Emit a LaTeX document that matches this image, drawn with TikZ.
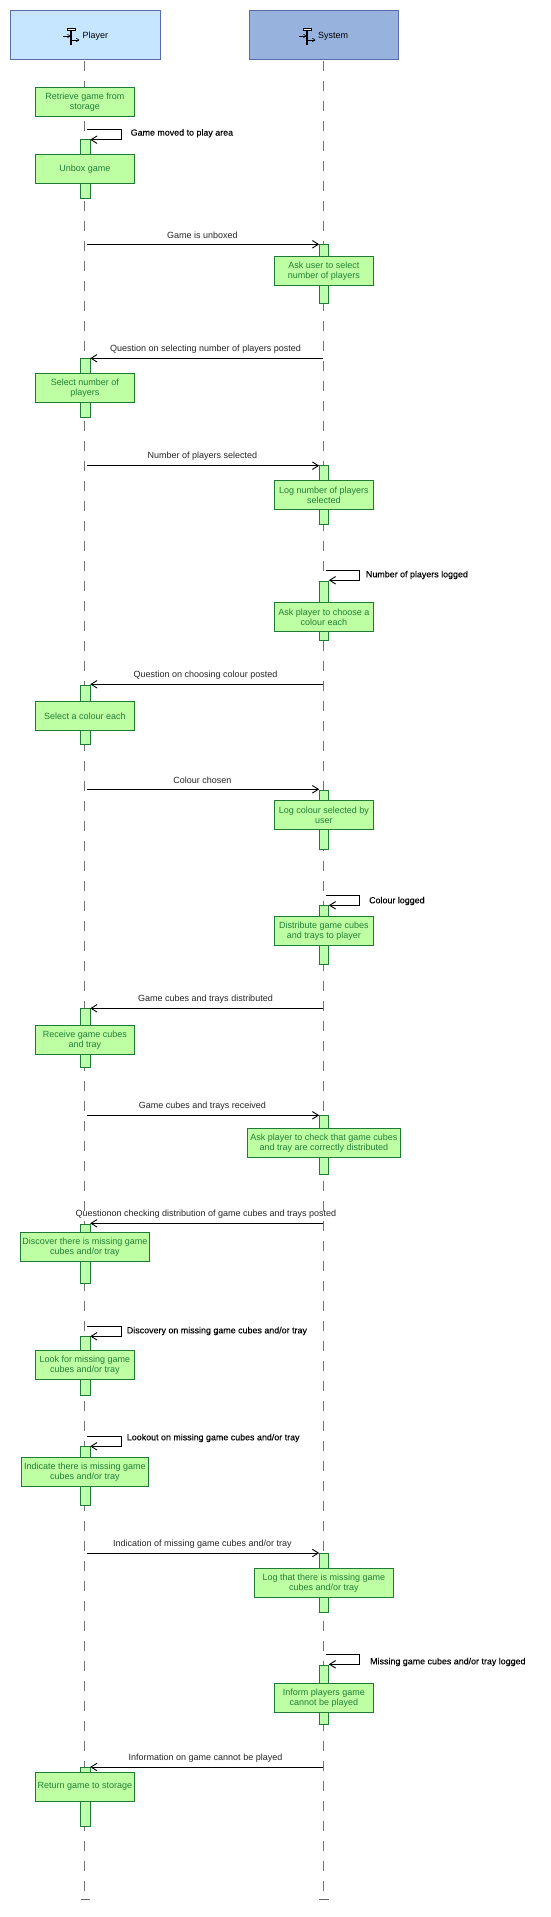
\documentclass[tikz,border=0pt]{standalone}
\usepackage{fontspec}
\setmainfont{Liberation Sans}
\newfontfamily\slabfont[FakeBold=0.07]{Liberation Sans}
\usetikzlibrary{arrows.meta}
\definecolor{gborder}{HTML}{1F7A35}
\definecolor{gfill}{HTML}{BFFFA3}
\definecolor{gtext}{HTML}{217F36}
\definecolor{hborder}{HTML}{5A6BAA}
\definecolor{pfill}{HTML}{C6E6FF}
\definecolor{sfill}{HTML}{97B2DC}
\tikzset{
  x=1pt,y=-1pt,
  header/.style={draw=hborder,line width=0.9pt,minimum width=149.5pt,minimum height=49.4pt,inner sep=0pt,outer sep=0pt},
  actbox/.style={draw=gborder,fill=gfill,line width=0.9pt,minimum height=29.2pt,minimum width=99pt,inner sep=0pt,outer sep=0pt,align=center,text=gtext,font=\fontsize{9}{10}\selectfont},
  bar/.style={draw=gborder,fill=gfill!85!green!70!white,line width=0.9pt,minimum width=9.6pt,inner sep=0pt,outer sep=0pt},
  msg/.style={draw=black,line width=1pt,-{Straight Barb[length=6pt,width=7.5pt,line width=0.9pt]}},
  lifeline/.style={draw=black!55,line width=0.8pt,dash pattern=on 10pt off 10pt},
  endbar/.style={draw=black!60,line width=0.8pt},
  mlabel/.style={text=black!85,inner sep=0pt,font=\fontsize{9}{10}\selectfont},
  slabel/.style={text=black,inner sep=0pt,anchor=west,font=\slabfont\fontsize{8.9}{10}\selectfont},
  icon/.style={draw=black,line width=0.7pt},
}
\newcommand{\barnode}[4]{\node[bar,minimum height={#4-#3}] (#1) at (#2,{(#3+#4)/2}) {};}
\newcommand{\tline}[1]{\raisebox{-.8pt}{#1}}
\begin{document}
\begin{tikzpicture}
\useasboundingbox (0,0) rectangle (550,1917);
\fill[white] (0,0) rectangle (550,1917);
% lifelines
\coordinate (LP) at (84.7,61);
\coordinate (LS) at (323.3,61);
\coordinate (LPe) at (84.7,1899.3);
\coordinate (LSe) at (323.3,1899.3);
\draw[lifeline] (LP) -- (LPe);
\draw[lifeline] (LS) -- (LSe);
\draw[endbar] (80.5,1899.3) -- (90.3,1899.3);
\draw[endbar] (319.1,1899.3) -- (328.9,1899.3);
% headers
\node[header,fill=pfill] (P) at (85.2,35) {};
\node[header,fill=sfill] (S) at (323.8,35) {};
\node[font=\fontsize{9}{10}\selectfont,inner sep=0pt,anchor=west] (Pt) at (82.3,36.2) {Player};
\node[font=\fontsize{9}{10}\selectfont,inner sep=0pt,anchor=west] (St) at (318,36.2) {System};
\foreach \ox in {0,236} {
  \draw[icon,fill=white] (67.6+\ox,28) rectangle (75+\ox,30.7);
  \draw[draw=black,line width=1.8pt] (71.3+\ox,30.7) -- (71.3+\ox,45);
  \draw[icon,-{Straight Barb[length=2.5pt,width=3.5pt,line width=0.6pt]}] (63.3+\ox,36) -- (70.5+\ox,36);
  \draw[icon,-{Straight Barb[length=2.5pt,width=3.5pt,line width=0.6pt]}] (72+\ox,40) -- (79.4+\ox,40);
}
% activation bars
\barnode{a1}{85.4}{139.7}{198.7}
\barnode{a2}{324}{244.3}{303.7}
\barnode{a3}{85.4}{358.3}{417.7}
\barnode{a4}{324}{465.7}{524.3}
\barnode{a5}{324}{581.3}{640.7}
\barnode{a6}{85.4}{685.3}{744.3}
\barnode{a7}{324}{790.3}{849.7}
\barnode{a8}{324}{905.3}{964.3}
\barnode{a9}{85.4}{1008.3}{1067.3}
\barnode{a10}{324}{1115.3}{1174.3}
\barnode{a11}{85.4}{1224.3}{1283.3}
\barnode{a12}{85.4}{1336.3}{1395.3}
\barnode{a13}{85.4}{1446.3}{1505.3}
\barnode{a14}{324}{1553}{1612.3}
\barnode{a15}{324}{1665.3}{1724.3}
\barnode{a16}{85.4}{1767.3}{1826.3}
% action boxes
\node[actbox] (b0) at (84.9,102.2) {\tline{Retrieve game from}\\\tline{storage}};
\node[actbox] (b1) at (84.9,169.2) {\tline{Unbox game}};
\node[actbox] (b2) at (323.8,271.2) {\tline{Ask user to select}\\\tline{number of players}};
\node[actbox] (b3) at (84.9,388) {\tline{Select number of}\\\tline{players}};
\node[actbox] (b4) at (323.8,495) {\tline{Log number of players}\\\tline{selected}};
\node[actbox] (b5) at (323.8,617) {\tline{Ask player to choose a}\\\tline{colour each}};
\node[actbox] (b6) at (84.9,715.8) {\tline{Select a colour each}};
\node[actbox] (b7) at (323.8,815) {\tline{Log colour selected by}\\\tline{user}};
\node[actbox] (b8) at (323.8,930.8) {\tline{Distribute game cubes}\\\tline{and trays to player}};
\node[actbox] (b9) at (84.9,1039.8) {\tline{Receive game cubes}\\\tline{and tray}};
\node[actbox,minimum width=153.2pt] (b10) at (323.8,1142.8) {\tline{Ask player to check that game cubes}\\\tline{and tray are correctly distributed}};
\node[actbox,minimum width=129.2pt] (b11) at (84.9,1246.8) {\tline{Discover there is missing game}\\\tline{cubes and/or tray}};
\node[actbox] (b12) at (84.9,1364.8) {\tline{Look for missing game}\\\tline{cubes and/or tray}};
\node[actbox,minimum width=127.2pt] (b13) at (84.9,1471.8) {\tline{Indicate there is missing game}\\\tline{cubes and/or tray}};
\node[actbox,minimum width=139.2pt] (b14) at (323.8,1582.8) {\tline{Log that there is missing game}\\\tline{cubes and/or tray}};
\node[actbox] (b15) at (323.8,1697.7) {\tline{Inform players game}\\\tline{cannot be played}};
\node[actbox] (b16) at (84.9,1786.8) {\tline{Return game to storage}};
% messages
\draw[msg] ([xshift=2.5pt]LP |- 0,129.3) -- +(33.8,0) |- (a1.north east);
\draw[msg] ([xshift=2.5pt]LP |- a2.north) -- (a2.north west);
\draw[msg] (LS |- a3.north) -- (a3.north east);
\draw[msg] ([xshift=2.5pt]LP |- a4.north) -- (a4.north west);
\draw[msg] ([xshift=2.5pt]LS |- 0,570.3) -- +(34.1,0) |- ([yshift=1pt]a5.north east);
\draw[msg] (LS |- 0,684.3) -- ([yshift=1pt]a6.north east);
\draw[msg] ([xshift=2.5pt]LP |- 0,789.3) -- ([yshift=1pt]a7.north west);
\draw[msg] ([xshift=2.5pt]LS |- 0,895.3) -- +(34.1,0) |- (a8.north east);
\draw[msg] (LS |- a9.north) -- (a9.north east);
\draw[msg] ([xshift=2.5pt]LP |- a10.north) -- (a10.north west);
\draw[msg] (LS |- 0,1223.3) -- ([yshift=1pt]a11.north east);
\draw[msg] ([xshift=2.5pt]LP |- 0,1326) -- +(33.8,0) |- (a12.north east);
\draw[msg] ([xshift=2.5pt]LP |- 0,1436) -- +(33.8,0) |- (a13.north east);
\draw[msg] ([xshift=2.5pt]LP |- a14.north) -- (a14.north west);
\draw[msg] ([xshift=2.5pt]LS |- 0,1654) -- +(34.1,0) |- ([yshift=1pt]a15.north east);
\draw[msg] (LS |- 0,1767) -- ([yshift=.3pt]a16.north east);
% labels
\node[slabel] (l1) at (130.5,133.3) {Game moved to play area};
\node[mlabel] (l2) at (202.4,235.3) {Game is unboxed};
\node[mlabel] (l3) at (205.5,349.3) {Question on selecting number of players posted};
\node[mlabel] (l4) at (202.4,456) {Number of players selected};
\node[slabel] (l5) at (365.8,575) {Number of players logged};
\node[mlabel] (l6) at (205.5,675) {Question on choosing colour posted};
\node[mlabel] (l7) at (202.4,780.3) {Colour chosen};
\node[slabel] (l8) at (369,901) {Colour logged};
\node[mlabel] (l9) at (205.5,999) {Game cubes and trays distributed};
\node[mlabel] (l10) at (202.4,1106) {Game cubes and trays received};
\node[mlabel] (l11) at (205.9,1214) {Questionon checking distribution of game cubes and trays posted};
\node[slabel] (l12) at (126.7,1331) {Discovery on missing game cubes and/or tray};
\node[slabel] (l13) at (126.7,1438) {Lookout on missing game cubes and/or tray};
\node[mlabel] (l14) at (202.4,1544) {Indication of missing game cubes and/or tray};
\node[slabel] (l15) at (370,1662) {Missing game cubes and/or tray logged};
\node[mlabel] (l16) at (205.5,1758) {Information on game cannot be played};
\end{tikzpicture}
\end{document}
